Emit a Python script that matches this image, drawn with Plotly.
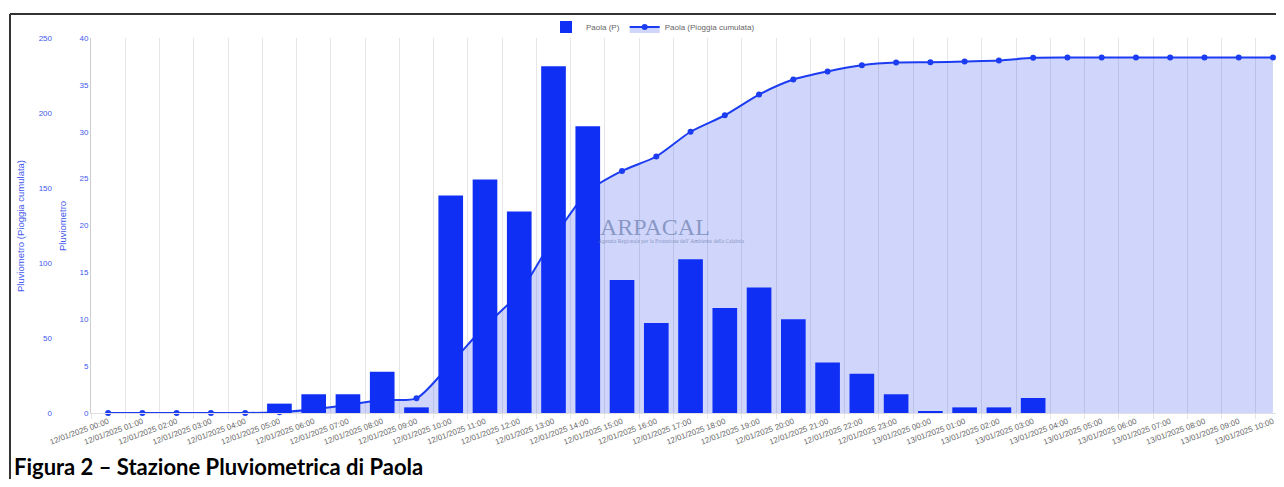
import plotly.graph_objects as go

categories = [
    "12/01/2025 00:00", "12/01/2025 01:00", "12/01/2025 02:00", "12/01/2025 03:00",
    "12/01/2025 04:00", "12/01/2025 05:00", "12/01/2025 06:00", "12/01/2025 07:00",
    "12/01/2025 08:00", "12/01/2025 09:00", "12/01/2025 10:00", "12/01/2025 11:00",
    "12/01/2025 12:00", "12/01/2025 13:00", "12/01/2025 14:00", "12/01/2025 15:00",
    "12/01/2025 16:00", "12/01/2025 17:00", "12/01/2025 18:00", "12/01/2025 19:00",
    "12/01/2025 20:00", "12/01/2025 21:00", "12/01/2025 22:00", "12/01/2025 23:00",
    "13/01/2025 00:00", "13/01/2025 01:00", "13/01/2025 02:00", "13/01/2025 03:00",
    "13/01/2025 04:00", "13/01/2025 05:00", "13/01/2025 06:00", "13/01/2025 07:00",
    "13/01/2025 08:00", "13/01/2025 09:00", "13/01/2025 10:00",
]

rain_hourly = [
    0, 0, 0, 0, 0, 1.0, 2.0, 2.0, 4.4, 0.6,
    23.2, 24.9, 21.5, 37.0, 30.6, 14.2, 9.6, 16.4, 11.2, 13.4,
    10.0, 5.4, 4.2, 2.0, 0.2, 0.6, 0.6, 1.6, 0, 0,
    0, 0, 0, 0, 0,
]

rain_cumulative = [
    0, 0, 0, 0, 0, 0.5, 2.5, 5.5, 8.7, 9.8,
    33.0, 58.0, 80.0, 116.5, 147.5, 161.4, 171.0, 187.5, 198.5, 212.3,
    222.3, 227.7, 231.8, 233.6, 233.8, 234.4, 235.0, 236.8, 237.0, 237.0,
    237.0, 237.0, 237.0, 237.0, 237.0,
]

ticks_cum = [0, 50, 100, 150, 200, 250]
ticks_rain = [0, 5, 10, 15, 20, 25, 30, 35, 40]

# page has an 8px body margin: figure is placed at (8, 8) in the window
OFF = 8
W, H = 1284 - 2 * OFF, 487 - 2 * OFF
ML, MR, MT, MB = 2, 0, 38 - OFF, H - (413 - OFF)
PW = W - ML - MR
PH = H - MT - MB


def px_x(p):
    return (p - OFF - ML) / PW


def px_y(p):
    return 1 - (p - OFF - MT) / PH


# the category axis of the original continues past the right edge of the picture
PLOT_LEFT, PLOT_RIGHT, CAT_STEP = 91, 1276, 34.26
x_max = -0.5 + (PLOT_RIGHT - PLOT_LEFT) / CAT_STEP

BLUE_TICK = "#4257ee"
LINE_BLUE = "#1c3cf2"
BAR_BLUE = "#0f30f4"

fig = go.Figure()

fig.add_trace(go.Scatter(
    x=categories, y=rain_cumulative, name="Paola (Pioggia cumulata)",
    mode="lines+markers", yaxis="y", cliponaxis=False,
    line=dict(color=LINE_BLUE, width=2, shape="spline", smoothing=0.7),
    marker=dict(color=LINE_BLUE, size=6),
    fill="tozeroy", fillcolor="rgba(40,70,235,0.22)",
))

fig.add_trace(go.Bar(
    x=categories, y=rain_hourly, name="Paola (P)", yaxis="y2",
    marker=dict(color=BAR_BLUE, line=dict(width=0)),
))

fig.update_layout(
    width=W, height=H,
    margin=dict(l=ML, r=MR, t=MT, b=MB, autoexpand=False),
    paper_bgcolor="white", plot_bgcolor="white",
    font=dict(family="Liberation Sans, Arial, sans-serif", size=8, color="#666666"),
    bargap=0.28,
    showlegend=True,
    legend=dict(
        orientation="h", x=px_x(653), xanchor="center", y=px_y(27), yanchor="middle",
        font=dict(size=8, color="#666666"), traceorder="reversed",
        bgcolor="rgba(0,0,0,0)",
    ),
    xaxis=dict(
        domain=[px_x(PLOT_LEFT), px_x(PLOT_RIGHT)], type="category",
        range=[-0.5, x_max],
        tickson="boundaries", showgrid=True, gridcolor="#e6e6e6", gridwidth=1,
        ticks="outside", ticklen=5, tickcolor="#e6e6e6",
        tickangle=-20, tickfont=dict(size=8, color="#666666"),
        showline=True, linecolor="#e0e0e0", linewidth=1,
        zeroline=False, fixedrange=True, automargin=False,
    ),
    yaxis=dict(
        range=[0, 250], tickvals=ticks_cum, anchor="free", position=px_x(52),
        side="left", showgrid=False, zeroline=False, showline=False,
        tickfont=dict(size=8, color=BLUE_TICK), ticks="", automargin=False,
    ),
    yaxis2=dict(
        range=[0, 40], tickvals=ticks_rain, overlaying="y", anchor="x", side="left",
        showgrid=False, zeroline=False, showline=True, linecolor="#cccccc", linewidth=1,
        tickfont=dict(size=8, color=BLUE_TICK), ticks="", automargin=False,
    ),
)

annotations = [
    dict(text="Pluviometro (Pioggia cumulata)", x=px_x(20), y=px_y(226), xref="paper", yref="paper",
         textangle=-90, showarrow=False, font=dict(size=9.5, color=BLUE_TICK),
         xanchor="center", yanchor="middle"),
    dict(text="Pluviometro", x=px_x(62), y=px_y(226), xref="paper", yref="paper",
         textangle=-90, showarrow=False, font=dict(size=9.5, color=BLUE_TICK),
         xanchor="center", yanchor="middle"),
    dict(text="ARPACAL", x=px_x(598), y=px_y(227), xref="paper", yref="paper",
         showarrow=False, font=dict(family="Liberation Serif, serif", size=24, color="rgba(95,115,165,0.65)"),
         xanchor="left", yanchor="middle"),
    dict(text="Agenzia Regionale per la Protezione dell' Ambiente della Calabria", x=px_x(596), y=px_y(241),
         xref="paper", yref="paper", showarrow=False,
         font=dict(family="Liberation Serif, serif", size=5.5, color="rgba(95,115,165,0.7)"),
         xanchor="left", yanchor="middle"),
    dict(text="<b>Figura 2 – Stazione Pluviometrica di Paola</b>", x=px_x(12), y=px_y(466),
         xref="paper", yref="paper", showarrow=False,
         font=dict(family="Lato, sans-serif", size=22, color="#000000"),
         xanchor="left", yanchor="middle"),
]
fig.update_layout(annotations=annotations)

fig.add_shape(type="line", xref="paper", yref="paper",
              x0=px_x(10), x1=px_x(1300), y0=px_y(14), y1=px_y(14),
              line=dict(color="#333333", width=2))
fig.add_shape(type="line", xref="paper", yref="paper",
              x0=px_x(10), x1=px_x(10), y0=px_y(14), y1=px_y(500),
              line=dict(color="#333333", width=2))

fig.write_html("out.html")
